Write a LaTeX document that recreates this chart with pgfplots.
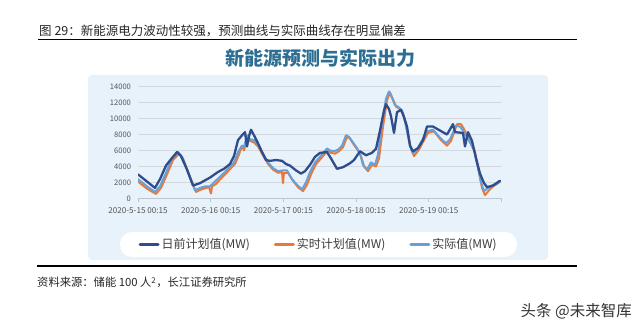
\documentclass[border=0pt]{standalone}
\usepackage{fontspec}
\setmainfont{Noto Sans CJK SC}
\usepackage{pgfplots}
\pgfplotsset{compat=1.18}
\definecolor{dablue}{HTML}{2F4C8C}
\definecolor{rtorange}{HTML}{E8793A}
\definecolor{actblue}{HTML}{6A9FD4}
\definecolor{panel}{HTML}{E7F2FB}
\definecolor{titleblue}{HTML}{2D6E93}
\definecolor{gridgray}{HTML}{D3D9DF}
\definecolor{axisgray}{HTML}{BFC5CA}
\definecolor{ticktext}{HTML}{555555}
\definecolor{legtext}{HTML}{3C3C3C}
\begin{document}
\begin{tikzpicture}[x=1pt,y=1pt]
\fill[white] (0,0) rectangle (640,331);
\node[anchor=base west, inner sep=0, font=\fontsize{12.5}{14}\selectfont, text=black!85] at (39,295) {图 29：新能源电力波动性较强，预测曲线与实际曲线存在明显偏差};
\draw[line width=1.4pt] (38,291.5) -- (577,291.5);
\node[inner sep=0, font=\fontsize{19}{22}\selectfont\bfseries, text=titleblue] at (320,273) {新能源预测与实际出力};
\fill[panel, rounded corners=4pt] (88,71) rectangle (548,256);
\fill[white, rounded corners=12pt] (120,74) rectangle (517,99);
\draw[line width=1.4pt] (37,65) -- (577,65);
\node[anchor=base west, inner sep=0, font=\fontsize{11.3}{13}\selectfont, text=black!85] at (37,44) {资料来源：储能 100 人\textsuperscript{2}，长江证券研究所};
\node[anchor=east, inner sep=0, font=\fontsize{15.5}{17}\selectfont, text=black!80] at (632,20) {头条 @未来智库};
\begin{axis}[
  at={(138pt,132.7pt)}, anchor=south west,
  scale only axis, width=363.5pt, height=111.6pt,
  xmin=0, xmax=120, ymin=0, ymax=14000,
  x filter/.expression={(x-138)*0.330124},
  xtick={0,24,48,72,96,120},
  xticklabels={2020-5-15 00:15,2020-5-16 00:15,2020-5-17 00:15,2020-5-18 00:15,2020-5-19 00:15,{}},
  ytick={0,2000,...,14000},
  scaled y ticks=false,
  axis x line*=bottom, axis y line*=left,
  y axis line style={draw=none},
  x axis line style={draw=axisgray, line width=0.8pt},
  ytick style={draw=none},
  xtick style={draw=axisgray, line width=0.8pt},
  tick align=outside, major tick length=3.5pt,
  ymajorgrids, grid style={gridgray, line width=0.8pt},
  /pgf/number format/assume math mode=true,
  /pgf/number format/1000 sep={},
  yticklabel style={font=\fontsize{7.6}{8}\selectfont, text=ticktext, /pgf/number format/fixed},
  xticklabel style={font=\fontsize{8.1}{9}\selectfont, text=ticktext, yshift=-2pt},
  legend style={at={(0.497,-0.414)}, anchor=center, draw=none, fill=none,
    font=\fontsize{12}{14}\selectfont, text=legtext,
    /tikz/every even column/.append style={column sep=22pt}},
  legend columns=3,
  legend image code/.code={\draw[#1, line width=3pt] (0pt,0pt) -- (18pt,0pt);},
  every axis plot/.append style={line join=round, line cap=round},
]
\addlegendimage{dablue}
\addlegendentry{日前计划值(MW)}
\addlegendimage{rtorange}
\addlegendentry{实时计划值(MW)}
\addlegendimage{actblue}
\addlegendentry{实际值(MW)}
% real-time plan
\addplot[rtorange, line width=2pt, forget plot] coordinates {
(138,2100)(147,1200)(156,550)(161,1300)(167,3000)(173,4800)(179,5600)(183,5000)(189,3000)(196,800)
(201,1100)(206,1300)(209,1400)(211,600)(212,1500)(216,1800)(221,2500)(226,3100)(231,3800)(235,4300)
(239,5500)(242,6600)(244,6000)(247,7500)(250,7200)(254,7000)(258,6500)(263,5400)(268,4300)(273,3600)
(278,3200)(282,3300)(283,1900)(284,3200)(288,3200)(293,2200)(298,1400)(303,900)(307,1700)(311,3000)
(316,4300)(321,5000)(325,5600)(328,6000)(331,5700)(335,5600)(339,5900)(343,6400)(347,7700)(350,7500)
(354,6700)(358,6000)(361,5300)(364,4000)(368,3400)(372,4200)(376,4000)(379,5000)(383,9000)(387,12300)
(390,13300)(393,12400)(396,11500)(400,11200)(403,10700)(406,9200)(409,7400)(411,6200)(414,5300)(419,6100)
(424,7300)(428,8200)(434,8400)(441,7300)(447,6600)(451,7200)(457,9300)(461,9300)(464,8700)(468,7600)
(472,6500)(475,5800)(479,3300)(482,1300)(485,400)(489,1000)(493,1500)(497,1800)(500,2100)
};
% actual
\addplot[actblue, line width=2pt, forget plot] coordinates {
(138,2400)(147,1500)(155,800)(160,1500)(166,3200)(172,5000)(178,5800)(182,5200)(188,3300)(195,1000)
(200,1300)(205,1500)(210,1500)(215,2100)(220,2700)(225,3300)(230,4000)(234,4500)(238,5800)(242,6600)
(244,6400)(247,7900)(250,7400)(254,7300)(258,6700)(263,5600)(268,4500)(273,3800)(278,3400)(283,3500)
(287,3500)(292,2400)(297,1700)(302,1100)(306,2000)(310,3300)(315,4500)(320,5200)(324,5800)(327,6250)
(330,6000)(334,5900)(338,6100)(342,6600)(346,7900)(349,7700)(353,7000)(357,6300)(360,5600)(363,4200)
(367,3600)(371,4500)(375,4200)(378,5500)(382,9500)(386,12500)(389,13400)(392,12600)(395,11700)(399,11400)
(402,11000)(405,9600)(408,7800)(410,6600)(413,5600)(418,6300)(423,7500)(427,8400)(433,8600)(440,7600)
(446,6900)(450,7400)(456,9100)(460,9000)(463,8500)(467,7700)(471,6800)(474,6200)(478,3800)(481,2000)
(484,900)(488,1300)(492,1600)(496,1800)(500,2100)
};
% day-ahead plan
\addplot[dablue, line width=2.3pt, forget plot] coordinates {
(138,3000)(147,2100)(155,1300)(160,2400)(166,4100)(171,4900)(177,5800)(181,5300)(187,3600)(193,1600)
(200,1900)(210,2600)(218,3300)(224,3700)(230,4300)(234,5300)(238,7300)(242,7900)(245,8300)(247,6500)
(249,7800)(251,8600)(254,7900)(258,6900)(262,5800)(266,4800)(270,4700)(276,4800)(282,4700)(286,4300)
(290,4100)(296,3500)(301,3100)(305,3400)(310,4200)(315,5200)(320,5700)(327,5800)(331,5000)(337,3700)
(343,3900)(350,4400)(354,4800)(360,5900)(366,5400)(372,5700)(376,6200)(380,8500)(384,11000)(386,11800)
(389,11200)(391,10300)(394,8200)(397,10800)(401,11100)(404,10200)(407,9000)(410,6600)(413,5900)(418,6300)
(423,7300)(427,9000)(433,9000)(440,8500)(447,8000)(453,9300)(455,8300)(463,8200)(465,6500)(468,8300)
(472,7200)(476,5000)(480,3100)(484,1900)(487,1400)(493,1600)(500,2200)
};
\end{axis}
\end{tikzpicture}
\end{document}
